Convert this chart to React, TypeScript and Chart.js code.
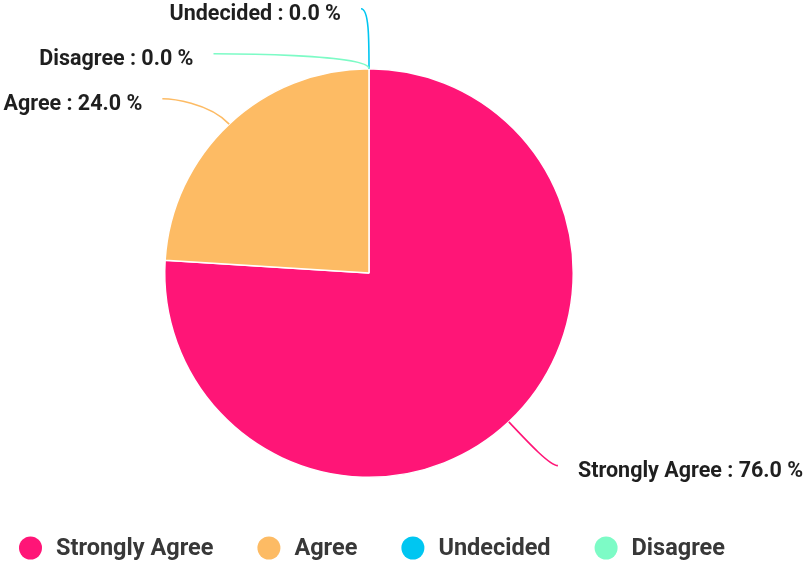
import React, { useEffect, useRef } from "react";
import { Chart, registerables } from "chart.js";

Chart.register(...registerables);

const categories: string[] = ["Strongly Agree", "Agree", "Undecided", "Disagree"];
const values: number[] = [76, 24, 0, 0];
const colors: string[] = ["#FF1577", "#FDBB64", "#00C6F1", "#7DFBC6"];

const FONT = "Roboto, 'Noto Sans', sans-serif";

const outLabels = {
  id: "outLabels",
  afterDraw(chart: any) {
    const ctx = chart.ctx;
    const meta = chart.getDatasetMeta(0);
    const data = chart.data.datasets[0].data as number[];
    const total = data.reduce((a, b) => a + b, 0);
    const L = 60;
    const len2 = 8;
    const spacing = 45;
    const items: any[] = [];
    meta.data.forEach((arc: any, i: number) => {
      const p = arc.getProps(["x", "y", "startAngle", "endAngle", "outerRadius"], true);
      const mid = (p.startAngle + p.endAngle) / 2;
      const cos = Math.cos(mid);
      const sin = Math.sin(mid);
      const side = cos > 1e-6 ? 1 : -1;
      const R = p.outerRadius + L;
      items.push({
        i,
        cx: p.x,
        cy: p.y,
        r: p.outerRadius,
        R,
        cos,
        sin,
        side,
        y: p.y + R * sin,
      });
    });
    [-1, 1].forEach((side) => {
      const group = items
        .filter((it) => it.side === side)
        .sort((a, b) => a.y - b.y || a.i - b.i);
      for (let k = 1; k < group.length; k++) {
        if (group[k].y < group[k - 1].y + spacing) group[k].y = group[k - 1].y + spacing;
      }
    });
    items.forEach((it) => {
      const px = it.cx + it.r * it.cos;
      const py = it.cy + it.r * it.sin;
      const dy = it.y - it.cy;
      const ex = it.cx + it.side * Math.sqrt(Math.max(0, it.R * it.R - dy * dy));
      const endX = ex + it.side * len2;
      let k = 30;
      if (Math.abs(it.sin) > 1e-6) k = Math.min(30, Math.abs((it.y - py) / it.sin));
      const c1x = px + it.cos * k;
      const c1y = py + it.sin * k;
      ctx.save();
      ctx.strokeStyle = colors[it.i];
      ctx.lineWidth = 1.6;
      ctx.beginPath();
      ctx.moveTo(px, py);
      ctx.bezierCurveTo(c1x, c1y, ex, it.y, endX, it.y);
      ctx.stroke();
      const pct = total ? (data[it.i] / total) * 100 : 0;
      const text = `${chart.data.labels[it.i]} : ${pct.toFixed(1)} %`;
      ctx.font = `bold 21.5px ${FONT}`;
      ctx.fillStyle = "#1f1f1f";
      ctx.textBaseline = "middle";
      ctx.textAlign = it.side > 0 ? "left" : "right";
      ctx.fillText(text, endX + it.side * 20, it.y + 6);
      ctx.restore();
    });

    // legend
    ctx.save();
    ctx.font = `bold 23.5px ${FONT}`;
    ctx.textBaseline = "middle";
    ctx.textAlign = "left";
    let x = 19;
    const ly = 548;
    const rad = 11.5;
    (chart.data.labels as string[]).forEach((lab, i) => {
      ctx.fillStyle = colors[i];
      ctx.beginPath();
      ctx.arc(x + rad, ly, rad, 0, Math.PI * 2);
      ctx.fill();
      const tx = x + rad * 2 + 14;
      ctx.fillStyle = "#383838";
      ctx.fillText(lab, tx, ly + 1);
      x = tx + ctx.measureText(lab).width + 44;
    });
    ctx.restore();
  },
};

export default function App() {
  const ref = useRef<HTMLCanvasElement | null>(null);
  useEffect(() => {
    document.body.style.margin = "0";
    const chart = new Chart(ref.current as HTMLCanvasElement, {
      type: "pie",
      data: {
        labels: categories,
        datasets: [
          {
            data: values,
            backgroundColor: colors,
            borderColor: "#ffffff",
            borderWidth: 1.5,
          },
        ],
      },
      options: {
        responsive: false,
        animation: false,
        layout: { padding: { left: 164, right: 230, top: 68, bottom: 84 } },
        plugins: {
          legend: { display: false },
          tooltip: { enabled: false },
        },
      },
      plugins: [outLabels],
    });
    return () => chart.destroy();
  }, []);
  return (
    <div style={{ width: 804, height: 562, background: "#fff" }}>
      <canvas ref={ref} width={804} height={562} style={{ width: 804, height: 562, display: "block" }} />
    </div>
  );
}
